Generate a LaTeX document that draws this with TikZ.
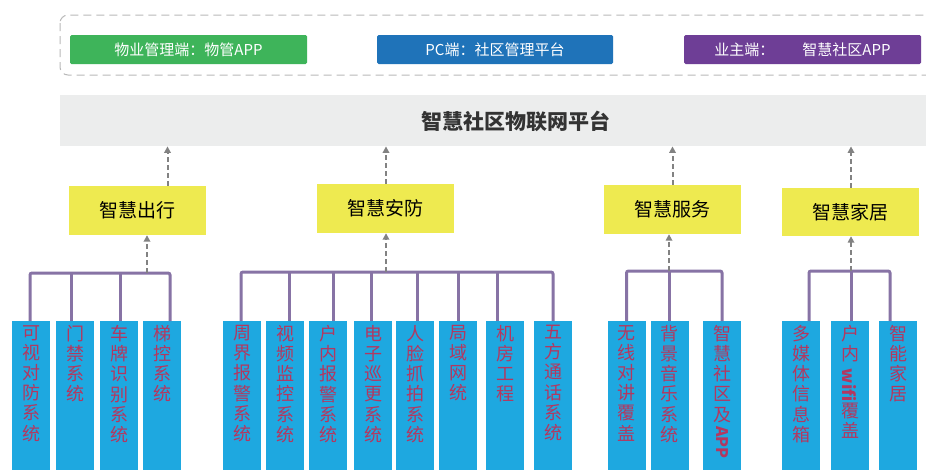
\documentclass[tikz,border=0pt]{standalone}
\usepackage{fontspec}
\setmainfont{Noto Sans CJK SC}
\usetikzlibrary{arrows.meta,calc}
\definecolor{cgreen}{RGB}{62,180,90}
\definecolor{cblue}{RGB}{31,115,185}
\definecolor{cpurple}{RGB}{110,62,150}
\definecolor{cyellow}{RGB}{238,234,80}
\definecolor{leafblue}{RGB}{30,168,224}
\definecolor{leafred}{RGB}{180,55,95}
\definecolor{buspurple}{RGB}{135,115,165}
\definecolor{arrgray}{RGB}{130,130,130}
\definecolor{platgray}{RGB}{236,237,237}
\definecolor{outergray}{RGB}{185,185,185}
\tikzset{
  topbox/.style={minimum width=237pt, minimum height=29pt, inner sep=0, rounded corners=1.5pt, text=white, font=\fontsize{15}{15}\selectfont},
  catbox/.style={fill=cyellow, minimum width=137pt, minimum height=49pt, inner sep=0, font=\fontsize{19}{19}\selectfont},
  leaf/.style={fill=leafblue, minimum width=38pt, minimum height=152pt, anchor=north, inner sep=0},
  ltext/.style={anchor=north, align=center, text=leafred, font=\fontsize{18}{20.2}\selectfont, inner sep=0},
  bus/.style={draw=buspurple, line width=3pt, rounded corners=2pt},
  upar/.style={draw=arrgray, line width=2pt, dash pattern=on 5pt off 3pt, -{Triangle[length=6.5pt,width=6.5pt]}},
}
\newcommand\lf[4]{%
  \node[leaf] (#1) at (#2,321) {};
  \node[ltext] (#1t) at ([yshift=-4pt]#1.north) {#4};
  \coordinate (#1d) at ([xshift=#3pt]#1.north);
}
\begin{document}
\begin{tikzpicture}[x=1pt,y=-1pt]
\useasboundingbox (0,0) rectangle (926,469);
\clip (0,0) rectangle (926,469);
\fill[white] (0,0) rectangle (926,469);
% outer dashed frame
\draw[outergray, line width=1pt, dash pattern=on 8pt off 5pt, rounded corners=8pt] (60,15) rectangle (935,75);
% top boxes
\node[topbox, fill=cgreen] (tg) at (188.5,49.5) {物业管理端：物管APP};
\node[topbox, fill=cblue, minimum width=236pt] (tb) at (495,49.5) {PC端：社区管理平台};
\node[topbox, fill=cpurple] (tp) at (802.5,49.5) {业主端：\hspace{28pt}智慧社区APP};
% platform
\node[fill=platgray, minimum width=880pt, minimum height=51pt, inner sep=0, anchor=north west] (plat) at (60,95) {};
\node[font=\fontsize{21}{21}\selectfont\bfseries, text=black!80] (platt) at (516,121) {智慧社区物联网平台};
% categories
\node[catbox] (c1) at (137.5,210.5) {智慧出行};
\node[catbox] (c2) at (385.5,208.5) {智慧安防};
\node[catbox] (c3) at (672.5,209.5) {智慧服务};
\node[catbox, minimum height=48pt] (c4) at (850,212) {智慧家居};
% arrows to platform
\draw[upar] ([xshift=30pt]c1.north) -- ([xshift=30pt]c1.north |- plat.south);
\draw[upar] ([xshift=0.5pt]c2.north) -- ([xshift=0.5pt]c2.north |- plat.south);
\draw[upar] ([xshift=0pt]c3.north) -- ([xshift=0pt]c3.north |- plat.south);
\draw[upar] ([xshift=1pt]c4.north) -- ([xshift=1pt]c4.north |- plat.south);
% leaves
\lf{a1}{31}{-1}{可\\视\\对\\防\\系\\统}
\lf{a2}{75}{-4}{门\\禁\\系\\统}
\lf{a3}{119}{1}{车\\牌\\识\\别\\系\\统}
\lf{a4}{162}{8}{梯\\控\\系\\统}
\lf{b1}{242}{-1}{周\\界\\报\\警\\系\\统}
\lf{b2}{285}{4}{视\\频\\监\\控\\系\\统}
\lf{b3}{328}{5}{户\\内\\报\\警\\系\\统}
\lf{b4}{373}{-2}{电\\子\\巡\\更\\系\\统}
\lf{b5}{415}{2}{人\\脸\\抓\\拍\\系\\统}
\lf{b6}{458}{0}{局\\域\\网\\统}
\lf{b7}{505}{-8}{机\\房\\工\\程}
\lf{b8}{553}{0}{五\\方\\通\\话\\系\\统}
\lf{s1}{626.5}{0}{无\\线\\对\\讲\\覆\\盖}
\lf{s2}{669.5}{0}{背\\景\\音\\乐\\系\\统}
\lf{s3}{722}{0}{智\\慧\\社\\区\\及\\\raisebox{15pt}{\rotatebox{-90}{\fontsize{16}{16}\selectfont\bfseries APP}}}
\lf{h1}{801}{8}{多\\媒\\体\\信\\息\\箱}
\lf{h2}{850}{1}{户\\内\\\raisebox{12pt}{\rotatebox{-90}{\fontsize{17}{17}\selectfont\bfseries wifi}}\\覆\\盖}
\lf{h3}{898}{-8}{智\\能\\家\\居}
% buses
\coordinate (busA) at (0,273);
\coordinate (busB) at (0,272);
\coordinate (busS) at (0,271);
\coordinate (busH) at (0,271);
\draw[bus] (a1d) -- (a1d |- busA) -- (a4d |- busA) -- (a4d);
\foreach \n in {a2,a3} \draw[bus] (\n d) -- (\n d |- busA);
\draw[bus] (b1d) -- (b1d |- busB) -- (b8d |- busB) -- (b8d);
\foreach \n in {b2,b3,b4,b5,b6,b7} \draw[bus] (\n d) -- (\n d |- busB);
\draw[bus] (s1d) -- (s1d |- busS) -- (s3d |- busS) -- (s3d);
\draw[bus] (s2d) -- (s2d |- busS);
\draw[bus] (h1d) -- (h1d |- busH) -- (h3d |- busH) -- (h3d);
\draw[bus] (h2d) -- (h2d |- busH);
% arrows from buses to categories
\draw[upar] ([xshift=9.5pt]c1.south |- busA) -- ([xshift=9.5pt]c1.south);
\draw[upar] ([xshift=0.5pt]c2.south |- busB) -- ([xshift=0.5pt]c2.south);
\draw[upar] ([xshift=-3.5pt]c3.south |- busS) -- ([xshift=-3.5pt]c3.south);
\draw[upar] ([xshift=1pt]c4.south |- busH) -- ([xshift=1pt]c4.south);
\end{tikzpicture}
\end{document}
